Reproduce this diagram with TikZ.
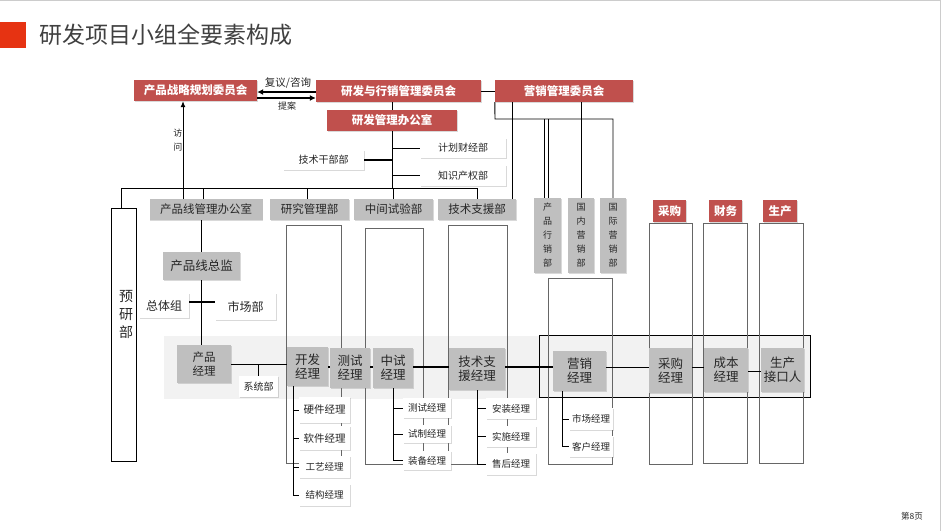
\documentclass[tikz,border=0pt]{standalone}
\usepackage{fontspec}
\setmainfont{Noto Sans CJK SC}
\usetikzlibrary{shadows,arrows.meta}
\definecolor{hdred}{HTML}{C0504D}
\definecolor{mgray}{HTML}{BFBFBF}
\definecolor{bandgray}{HTML}{F2F2F2}
\definecolor{titlered}{HTML}{E63312}
\definecolor{txt}{HTML}{262626}

\tikzset{
  shd/.style={drop shadow={shadow xshift=0.8pt,shadow yshift=-0.8pt,opacity=0.3}},
  sz/.style 2 args={minimum width=#1pt,minimum height=#2pt},
  redbox/.style={shd,fill=hdred,text=white,inner sep=0pt,font=\bfseries\fontsize{11.5}{13}\selectfont},
  headbox/.style={shd,fill=mgray,text=txt,inner sep=0pt,font=\fontsize{11.5}{13}\selectfont},
  vbox/.style={shd,fill=mgray,text=txt,inner sep=0pt,align=center,font=\fontsize{9}{14}\selectfont},
  mgrbox/.style={shd,fill=mgray,text=txt,inner sep=0pt,align=center,font=\fontsize{12.5}{14}\selectfont},
  subbox/.style={shd,fill=white,text=txt,inner sep=0pt,font=\fontsize{9.5}{11}\selectfont},
  colbox/.style={draw=black!60,line width=0.6pt},
  link/.style={line width=0.9pt},
  fatlink/.style={line width=1.8pt},
}

\begin{document}
\begin{tikzpicture}[x=1pt,y=-1pt]
  \useasboundingbox (0,0) rectangle (941,531);
  \draw[black!20,line width=1pt] (0,0.5) -- (940.5,0.5) -- (940.5,531);

  % title
  \fill[titlered] (0,22) rectangle (26,48);
  \node[anchor=west,inner sep=0pt,text=black!75,font=\fontsize{23}{25}\selectfont] (title) at (39,35) {研发项目小组全要素构成};
  \node[text=txt,font=\fontsize{8.5}{10}\selectfont] (page) at (912,516) {第8页};

  % band and columns
  \fill[bandgray] (164,336) rectangle (539,399);
  \filldraw[fill=bandgray,draw=black,line width=0.9pt] (539,335) rectangle (810,397);
  \draw[colbox] (286,225) rectangle (341,463);
  \draw[colbox] (365,228) rectangle (423,464);
  \draw[colbox] (448,225) rectangle (507,464);
  \draw[colbox] (548,278) rectangle (612,464);
  \draw[colbox] (649,223) rectangle (692,464);
  \draw[colbox] (703,223) rectangle (747,463);
  \draw[colbox] (759,223) rectangle (803,463);

  % committees
  \node[redbox,sz={123}{21}] (zlw) at (195.5,90.5) {产品战略规划委员会};
  \node[redbox,sz={165}{22}] (yxw) at (398.5,91) {研发与行销管理委员会};
  \node[redbox,sz={130}{21}] (yfb) at (392,120.5) {研发管理办公室};
  \node[redbox,sz={138}{22}] (yxm) at (564,91) {营销管理委员会};
  \node[redbox,sz={33}{22}] (cg) at (669.5,211) {采购};
  \node[redbox,sz={33}{22}] (cw) at (725.5,211) {财务};
  \node[redbox,sz={34}{22}] (sc) at (780,211) {生产};

  \node[subbox,sz={81}{20},font=\fontsize{10}{12}\selectfont] (jsg) at (323.5,160) {技术干部部};
  \node[subbox,sz={86}{20},font=\fontsize{10}{12}\selectfont] (jhc) at (463,148) {计划财经部};
  \node[subbox,sz={86}{21},font=\fontsize{10}{12}\selectfont] (zscq) at (463,175.5) {知识产权部};

  % departments
  \node[headbox,sz={113}{21}] (cpx) at (206,209.5) {产品线管理办公室};
  \node[headbox,sz={79}{21}] (yjg) at (309.5,209.5) {研究管理部};
  \node[headbox,sz={79}{21}] (zjs) at (393.5,209.5) {中间试验部};
  \node[headbox,sz={78}{21}] (jsz) at (477,209.5) {技术支援部};
  \node[vbox,sz={27}{75}] (cpyx) at (547.5,235.5) {产\\品\\行\\销\\部};
  \node[vbox,sz={26}{75}] (gnyx) at (581,235.5) {国\\内\\营\\销\\部};
  \node[vbox,sz={26}{75}] (gjyx) at (613,235.5) {国\\际\\营\\销\\部};
  \node[draw=black,line width=0.9pt,sz={25}{253},inner sep=0pt] (yyb) at (123.5,334.5) {};
  \node[align=center,inner sep=0pt,text=txt,font=\fontsize{14}{18}\selectfont] (yybt) at (126,314) {预\\研\\部};

  % managers
  \node[mgrbox,sz={77}{28}] (zj) at (201.5,266) {产品线总监};
  \node[subbox,sz={50}{25},font=\fontsize{12}{14}\selectfont] (ztz) at (164,305.5) {总体组};
  \node[subbox,sz={61}{27},font=\fontsize{12}{14}\selectfont] (scb) at (245.5,306.5) {市场部};
  \node[mgrbox,sz={54}{38},font=\fontsize{11.5}{14}\selectfont] (cpjl) at (204,364) {产品\\经理};
  \node[subbox,sz={39}{21},font=\fontsize{10}{12}\selectfont] (xtb) at (258.5,386.5) {系统部};
  \node[mgrbox,sz={41}{39}] (kfjl) at (307.5,366.5) {开发\\经理};
  \node[mgrbox,sz={40}{40}] (csjl) at (350,368) {测试\\经理};
  \node[mgrbox,sz={40}{40}] (zsjl) at (393,368) {中试\\经理};
  \node[mgrbox,sz={56}{42}] (jzjl) at (477,369) {技术支\\援经理};
  \node[mgrbox,sz={53}{40}] (yxjl) at (579.5,371) {营销\\经理};
  \node[mgrbox,sz={43}{45}] (cgjl) at (670.5,370.5) {采购\\经理};
  \node[mgrbox,sz={44}{44}] (cbjl) at (726,370) {成本\\经理};
  \node[mgrbox,sz={43}{44}] (scjk) at (782.5,370) {生产\\接口人};

  % sub managers
  \node[subbox,sz={51}{26},font=\fontsize{10.5}{12}\selectfont] (yj) at (324.5,410) {硬件经理};
  \node[subbox,sz={51}{24},font=\fontsize{10.5}{12}\selectfont] (rj) at (324.5,438) {软件经理};
  \node[subbox,sz={51}{22}] (gy) at (324.5,467) {工艺经理};
  \node[subbox,sz={51}{22}] (jg) at (324.5,495) {结构经理};
  \node[subbox,sz={48}{20}] (csj) at (427,408) {测试经理};
  \node[subbox,sz={48}{18}] (szj) at (427,434) {试制经理};
  \node[subbox,sz={48}{19}] (zbj) at (427,460.5) {装备经理};
  \node[subbox,sz={50}{21}] (azj) at (511,408.5) {安装经理};
  \node[subbox,sz={50}{21}] (ssj) at (511,436.5) {实施经理};
  \node[subbox,sz={50}{22}] (shj) at (511,464) {售后经理};
  \node[subbox,sz={44}{22}] (scj) at (591,419) {市场经理};
  \node[subbox,sz={44}{21}] (khj) at (591,446.5) {客户经理};

  % top links
  \draw[fatlink,-{Latex[length=6pt,width=6pt]}] (yxw.west |- 0,92) -- (zlw.east |- 0,92);
  \draw[fatlink,-{Latex[length=6pt,width=6pt]}] (zlw.east |- 0,98) -- (yxw.west |- 0,98);
  \node[font=\fontsize{10.5}{12}\selectfont,text=txt] (fy) at (288,83) {复议/咨询};
  \node[font=\fontsize{9}{11}\selectfont,text=txt] (ta) at (287,106.5) {提案};
  \draw[link] (yxw.east) -- (yxm.west);
  \draw[link] (yfb.north |- yxw.south) -- (yfb.north);

  % bus
  \coordinate (bl) at (121,188);
  \coordinate (br) at (477,188);
  \draw[link] (yfb.south) -- (yfb.south |- bl);
  \draw[link] (yyb.north -| bl) -- (bl) -- (br) -- (jsz.north);
  \draw[link] (203,188) -- (cpx.north -| 203,0);
  \draw[link] (307,188) -- (yjg.north -| 307,0);
  \draw[link] (393,188) -- (zjs.north -| 393,0);
  \draw[link,-{Latex[length=6pt,width=5pt]}] (cpx.north -| 183,0) -- (zlw.south -| 183,0);
  \node[anchor=east,inner sep=1pt,align=center,text=txt,font=\fontsize{9}{14}\selectfont] (fw) at (183.5,140) {访\\问};
  \draw[link] (yfb.south |- jhc.west) -- (jhc.west);
  \draw[link] (yfb.south |- zscq.west) -- (zscq.west);
  \draw[fatlink] (jsg.east) -- (yfb.south |- jsg.east);

  % marketing links
  \coordinate (ml) at (495,119);
  \coordinate (mr) at (613,119);
  \draw[link] (yxm.south west) -- (ml) -- (mr) -- (gjyx.north -| mr);
  \draw[link] (544,119) -- (cpyx.north -| 544,0);
  \draw[link] (548,119) -- (cpyx.north -| 548,0);
  \draw[link] (yxm.south -| gnyx.north) -- (gnyx.north);
  \draw[link] (yxm.south -| 512,0) -- (jsz.north -| 512,0);

  % product line
  \draw[link] (zj.north |- cpx.south) -- (zj.north);
  \draw[link] (zj.south) -- (zj.south |- cpjl.north);
  \draw[fatlink] (ztz.east |- 0,302) -- (scb.west |- 0,302);
  \draw[link] (cpjl.east) -- (cpjl.east -| kfjl.west);
  \draw[fatlink] (xtb.north) -- (xtb.north |- cpjl.east);
  \draw[fatlink] (kfjl.east |- 0,367) -- (csjl.west |- 0,367);
  \draw[fatlink] (csjl.east |- 0,367) -- (zsjl.west |- 0,367);
  \draw[fatlink] (zsjl.east |- 0,367) -- (jzjl.west |- 0,367);
  \draw[fatlink] (jzjl.east |- 0,367) -- (yxjl.west |- 0,367);
  \draw[link] (yxjl.east |- 0,367) -- (cgjl.west |- 0,367);
  \draw[link] (cgjl.east |- 0,367) -- (cbjl.west |- 0,367);
  \draw[link] (cbjl.east |- 0,371) -- (scjk.west |- 0,371);

  % sub trunks
  \coordinate (kt) at (293,0);
  \coordinate (yt) at (562,0);
  \foreach \s in {yj,rj,gy,jg}
    \draw[link] (kt |- kfjl.south) |- (\s.west);
  \foreach \s in {csj,szj,zbj}
    \draw[link] (zsjl.south) |- (\s.west);
  \foreach \s in {azj,ssj,shj}
    \draw[link] (jzjl.south) |- (\s.west);
  \foreach \s in {scj,khj}
    \draw[link] (yt |- yxjl.south) |- (\s.west);
\end{tikzpicture}
\end{document}
